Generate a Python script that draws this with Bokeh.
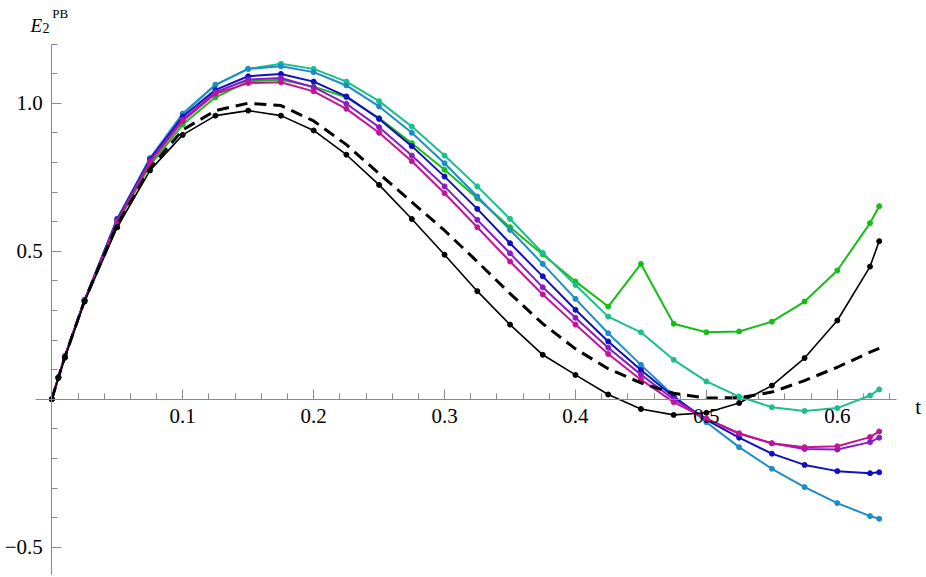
from bokeh.plotting import figure
from bokeh.models import Range1d, FixedTicker, Label
from bokeh.embed import file_html
from bokeh.resources import INLINE

# ---- data ----
t = [0, 0.005, 0.01, 0.025, 0.05, 0.075, 0.1, 0.125, 0.15, 0.175, 0.2, 0.225, 0.25,
     0.275, 0.3, 0.325, 0.35, 0.375, 0.4, 0.425, 0.45, 0.475, 0.5, 0.525, 0.55,
     0.575, 0.6, 0.625, 0.632]

green = [0, 0.072, 0.142, 0.33, 0.595, 0.79, 0.928, 1.02, 1.074, 1.079, 1.056, 1.02, 0.95,
         0.865, 0.775, 0.679, 0.581, 0.489, 0.398, 0.313, 0.457, 0.255, 0.226, 0.229, 0.262,
         0.33, 0.435, 0.595, 0.652]
teal = [0, 0.074, 0.145, 0.335, 0.608, 0.812, 0.962, 1.062, 1.116, 1.133, 1.116, 1.073, 1.007,
        0.921, 0.823, 0.719, 0.609, 0.494, 0.386, 0.279, 0.226, 0.133, 0.06, 0.009, -0.027,
        -0.04, -0.03, 0.0125, 0.033]
lightblue = [0, 0.074, 0.145, 0.336, 0.61, 0.815, 0.965, 1.062, 1.116, 1.125, 1.105, 1.06, 0.989,
             0.9, 0.797, 0.685, 0.572, 0.457, 0.339, 0.223, 0.116, 0.012, -0.078, -0.162, -0.235,
             -0.297, -0.351, -0.395, -0.404]
darkblue = [0, 0.074, 0.145, 0.335, 0.608, 0.81, 0.955, 1.045, 1.091, 1.099, 1.073, 1.023, 0.947,
            0.855, 0.752, 0.643, 0.527, 0.415, 0.302, 0.195, 0.099, 0.008, -0.07, -0.13, -0.184,
            -0.222, -0.243, -0.25, -0.247]
purple = [0, 0.074, 0.145, 0.334, 0.604, 0.805, 0.945, 1.037, 1.08, 1.085, 1.054, 0.998, 0.919,
          0.823, 0.719, 0.606, 0.493, 0.378, 0.275, 0.174, 0.083, 0.0, -0.066, -0.117, -0.149,
          -0.168, -0.17, -0.145, -0.13]
magenta = [0, 0.074, 0.144, 0.333, 0.60, 0.80, 0.94, 1.032, 1.068, 1.071, 1.04, 0.981, 0.9,
           0.804, 0.696, 0.581, 0.465, 0.354, 0.252, 0.153, 0.066, -0.01, -0.066, -0.115, -0.149,
           -0.162, -0.159, -0.128, -0.109]
black = [0, 0.072, 0.14, 0.33, 0.581, 0.773, 0.893, 0.958, 0.975, 0.958, 0.908, 0.826, 0.724,
         0.609, 0.488, 0.365, 0.252, 0.15, 0.082, 0.016, -0.033, -0.053, -0.046, -0.013, 0.046,
         0.139, 0.266, 0.448, 0.534]
dashed = [0, 0.073, 0.143, 0.333, 0.59, 0.78, 0.91, 0.975, 1.0, 0.992, 0.94, 0.86, 0.762,
          0.666, 0.57, 0.465, 0.357, 0.255, 0.17, 0.103, 0.055, 0.02, 0.004, 0.005, 0.024,
          0.063, 0.108, 0.159, 0.172]

x_major = [0.1, 0.2, 0.3, 0.4, 0.5, 0.6]
x_labels = {0.1: "0.1", 0.2: "0.2", 0.3: "0.3", 0.4: "0.4", 0.5: "0.5", 0.6: "0.6"}
y_major = [-0.5, 0.5, 1.0]
y_labels = {-0.5: "\u22120.5", 0.5: "0.5", 1.0: "1.0"}

FONT = "Liberation Serif"
AXIS_GRAY = "#8a8a8a"

p = figure(width=924, height=575, output_backend="svg", toolbar_location=None,
           x_range=Range1d(-0.0392, 0.6666), y_range=Range1d(-0.5956, 1.347),
           min_border_left=0, min_border_right=0, min_border_top=0, min_border_bottom=0)
p.outline_line_color = None
p.xgrid.visible = False
p.ygrid.visible = False

# axes crossing at the origin
xa = p.xaxis[0]
ya = p.yaxis[0]
xa.fixed_location = 0
ya.fixed_location = 0
xa.bounds = (-0.0125, 0.645)
ya.bounds = (-0.6, 1.2)

xminor = [round(0.02 * i, 2) for i in range(1, 33)]
yminor = [round(-0.6 + 0.1 * i, 1) for i in range(0, 19)]
xa.ticker = FixedTicker(ticks=x_major, minor_ticks=xminor)
ya.ticker = FixedTicker(ticks=y_major, minor_ticks=yminor)
xa.major_label_overrides = x_labels
ya.major_label_overrides = y_labels

for ax in (xa, ya):
    ax.axis_line_color = AXIS_GRAY
    ax.major_tick_line_color = AXIS_GRAY
    ax.minor_tick_line_color = AXIS_GRAY
    ax.major_tick_in = 10
    ax.major_tick_out = 0
    ax.minor_tick_in = 6
    ax.minor_tick_out = 0
    ax.major_label_text_font = FONT
    ax.major_label_text_font_size = "21px"
    ax.major_label_text_color = "black"
xa.major_label_standoff = 10
ya.major_label_standoff = 9

series = [
    (green, "#14be14"),
    (teal, "#1abf8c"),
    (lightblue, "#1e8cc8"),
    (darkblue, "#1010c0"),
    (purple, "#8c1ac8"),
    (magenta, "#c41496"),
]
for ys, col in series:
    p.line(t, ys, line_color=col, line_width=2)
    p.scatter(t, ys, size=5, fill_color=col, line_color=col)

p.line(t, black, line_color="black", line_width=1.6)
p.scatter(t, black, size=5, fill_color="black", line_color="black")

p.line(t, dashed, line_color="black", line_width=3, line_dash="12 7")

# axis titles
p.add_layout(Label(x=-0.0163, y=1.2625, text="E", text_font=FONT, text_font_style="italic",
                   text_font_size="19px", text_baseline="alphabetic", text_color="black"))
p.add_layout(Label(x=-0.0072, y=1.254, text="2", text_font=FONT,
                   text_font_size="14px", text_baseline="alphabetic", text_color="black"))
p.add_layout(Label(x=0.0004, y=1.303, text="PB", text_font=FONT,
                   text_font_size="13px", text_baseline="alphabetic", text_color="black"))
p.add_layout(Label(x=0.6595, y=-0.028, text="t", text_font=FONT,
                   text_font_size="21px", text_baseline="alphabetic", text_color="black"))

open("out.html", "w").write(file_html(p, INLINE))
